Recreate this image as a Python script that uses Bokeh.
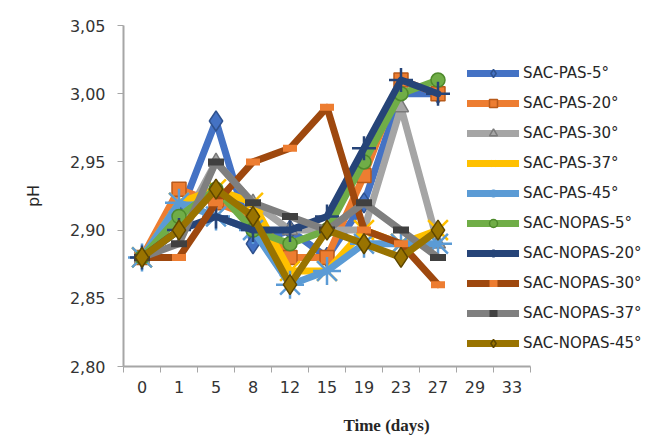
from bokeh.plotting import figure
from bokeh.models import Range1d, FixedTicker, CustomJSTickFormatter, Legend, LegendItem
from bokeh.embed import file_html
from bokeh.resources import INLINE

days = ["0", "1", "5", "8", "12", "15", "19", "23", "27", "29", "33"]
measured_days = ["0", "1", "5", "8", "12", "15", "19", "23", "27"]

pas5 = [2.88, 2.91, 2.98, 2.89, 2.90, 2.88, 2.92, 3.00, 3.00]
pas20 = [2.88, 2.93, 2.92, 2.91, 2.88, 2.88, 2.94, 3.01, 3.00]
pas30 = [2.88, 2.90, 2.95, 2.92, 2.90, 2.90, 2.90, 2.99, 2.89]
pas37 = [2.88, 2.92, 2.93, 2.92, 2.87, 2.87, 2.90, 2.89, 2.90]
pas45 = [2.88, 2.92, 2.91, 2.90, 2.86, 2.87, 2.89, 2.89, 2.89]
nopas5 = [2.88, 2.91, 2.93, 2.90, 2.89, 2.90, 2.95, 3.00, 3.01]
nopas20 = [2.88, 2.90, 2.91, 2.90, 2.90, 2.91, 2.96, 3.01, 3.00]
nopas30 = [2.88, 2.88, 2.92, 2.95, 2.96, 2.99, 2.90, 2.89, 2.86]
nopas37 = [2.88, 2.89, 2.95, 2.92, 2.91, 2.90, 2.92, 2.90, 2.88]
nopas45 = [2.88, 2.90, 2.93, 2.91, 2.86, 2.90, 2.89, 2.88, 2.90]

y_ticks = [2.80, 2.85, 2.90, 2.95, 3.00, 3.05]

series = [
    ("SAC-PAS-5°", pas5, "#4472C4", "#2F528F", "diamond", 20),
    ("SAC-PAS-20°", pas20, "#ED7D31", "#B85A1A", "square", 14),
    ("SAC-PAS-30°", pas30, "#A5A5A5", "#7A7A7A", "triangle", 15),
    ("SAC-PAS-37°", pas37, "#FFC000", "#FFC000", "x", 28),
    ("SAC-PAS-45°", pas45, "#5B9BD5", "#5B9BD5", "asterisk", 28),
    ("SAC-NOPAS-5°", nopas5, "#70AD47", "#4E8A2C", "circle", 14),
    ("SAC-NOPAS-20°", nopas20, "#264478", "#264478", "cross", 24),
    ("SAC-NOPAS-30°", nopas30, "#9E480E", "#ED7D31", "dash", 14),
    ("SAC-NOPAS-37°", nopas37, "#7F7F7F", "#404040", "dash", 16),
    ("SAC-NOPAS-45°", nopas45, "#997300", "#5E4700", "diamond", 20),
]

xs = [days.index(d) + 0.5 for d in measured_days]

# the plot frame spans the full width so the legend (which overlaps it) is not clipped;
# the category axis itself is bounded to the 11 categories
n_cat = len(days)
x_extent = n_cat * 526 / 407

p = figure(width=649, height=438, output_backend="svg", toolbar_location=None,
           x_range=Range1d(0, x_extent), y_range=Range1d(2.80, 3.05),
           min_border_left=123, min_border_right=0, min_border_top=25,
           min_border_bottom=72)
p.outline_line_color = None
p.xgrid.visible = False
p.ygrid.visible = False
p.background_fill_color = "white"

items = []
for name, vals, color, edge, marker, size in series:
    r1 = p.line(xs, vals, line_color=color, line_width=7, line_join="round", line_cap="round")
    if marker == "dash":
        r2 = p.scatter(xs, vals, marker="dash", size=size, line_color=edge, line_width=7)
    elif marker in ("x", "asterisk", "cross"):
        r2 = p.scatter(xs, vals, marker=marker, size=size, line_color=edge, line_width=2.5)
    else:
        r2 = p.scatter(xs, vals, marker=marker, size=size, fill_color=color,
                       line_color=edge, line_width=1.5)
    items.append(LegendItem(label=name, renderers=[r1, r2]))

legend = Legend(items=items, location=(344, 13), glyph_width=52, glyph_height=20,
                label_height=20, spacing=10, padding=0, margin=0, label_standoff=4,
                label_text_font="DejaVu Sans", label_text_font_size="15px",
                label_text_color="#262626", border_line_color=None,
                background_fill_alpha=0)
p.add_layout(legend, "center")

# y axis
p.yaxis.ticker = FixedTicker(ticks=y_ticks, minor_ticks=[])
p.yaxis.formatter = CustomJSTickFormatter(code="return tick.toFixed(2).replace('.', ',');")
p.yaxis.axis_label = "pH"
p.yaxis.axis_label_text_font = "DejaVu Sans"
p.yaxis.axis_label_text_font_style = "normal"
p.yaxis.axis_label_text_font_size = "16px"
p.yaxis.axis_label_text_color = "#262626"
p.yaxis.axis_label_standoff = 24
p.yaxis.major_label_text_font = "DejaVu Sans"
p.yaxis.major_label_text_font_size = "16px"
p.yaxis.major_label_text_color = "#333333"
p.yaxis.major_label_standoff = 12
p.yaxis.axis_line_color = "#A6A6A6"
p.yaxis.axis_line_width = 2
p.yaxis.major_tick_line_color = "#A6A6A6"
p.yaxis.major_tick_out = 6
p.yaxis.major_tick_in = 0
p.yaxis.minor_tick_line_color = None

# x axis
label_ticks = [i + 0.5 for i in range(n_cat)]
p.xaxis.bounds = (0, n_cat)
p.xaxis.ticker = FixedTicker(ticks=label_ticks, minor_ticks=list(range(n_cat + 1)))
p.xaxis.major_label_overrides = {t: d for t, d in zip(label_ticks, days)}
p.xaxis.axis_label = "Time (days)"
p.xaxis.axis_label_text_font = "Liberation Serif"
p.xaxis.axis_label_text_font_style = "bold"
p.xaxis.axis_label_text_font_size = "17px"
p.xaxis.axis_label_text_color = "#262626"
p.xaxis.axis_label_standoff = 20
p.xaxis.major_label_text_font = "DejaVu Sans"
p.xaxis.major_label_text_font_size = "16px"
p.xaxis.major_label_text_color = "#333333"
p.xaxis.major_label_standoff = 8
p.xaxis.axis_line_color = "#A6A6A6"
p.xaxis.axis_line_width = 2
p.xaxis.major_tick_out = 0
p.xaxis.major_tick_in = 0
p.xaxis.minor_tick_line_color = "#A6A6A6"
p.xaxis.minor_tick_out = 6
p.xaxis.minor_tick_in = 0

open("out.html", "w").write(file_html(p, INLINE))
